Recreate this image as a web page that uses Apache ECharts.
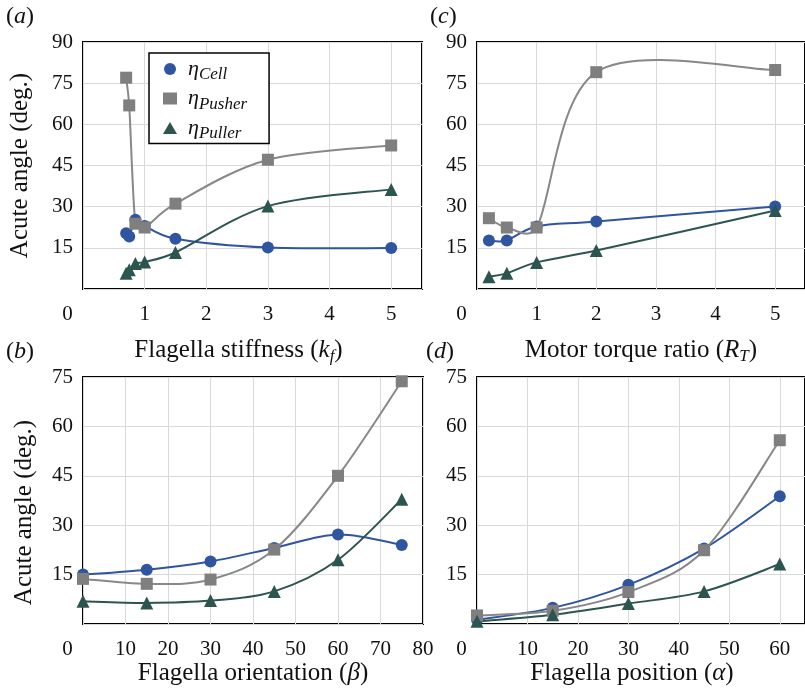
<!DOCTYPE html>
<html>
<head>
<meta charset="utf-8">
<script src="https://cdn.jsdelivr.net/npm/echarts@6/dist/echarts.min.js"></script>
<style>html,body{margin:0;padding:0;background:#fff;}#c{width:805px;height:692px;}</style>
</head>
<body>
<div id="c"></div>
<script>
// ---- Data ----
const seriesNames = ['Cell', 'Pusher', 'Puller'];

// (a) Flagella stiffness k_f
const kfX       = [0.7, 0.75, 0.85, 1, 1.5, 3, 5];
const kfCell    = [20.3, 19.1, 25.2, 23.0, 18.3, 15.1, 14.9];
const kfPusher  = [77.0, 66.9, 23.8, 22.4, 31.1, 47.1, 52.3];
const kfPuller  = [5.7, 7.0, 9.3, 9.8, 13.3, 30.2, 36.3];

// (c) Motor torque ratio R_T
const rtX       = [0.2, 0.5, 1, 2, 5];
const rtCell    = [17.7, 17.7, 22.8, 24.6, 30.1];
const rtPusher  = [25.8, 22.4, 22.4, 79.0, 79.8];
const rtPuller  = [4.5, 5.7, 9.7, 14.0, 28.6];

// (b) Flagella orientation beta
const betaX      = [0, 15, 30, 45, 60, 75];
const betaCell   = [15.0, 16.5, 19.0, 23.1, 27.2, 24.0];
const betaPusher = [13.7, 12.2, 13.5, 22.6, 45.0, 73.7];
const betaPuller = [6.9, 6.4, 7.1, 9.9, 19.5, 37.9];

// (d) Flagella position alpha
const alphaX      = [0, 15, 30, 45, 60];
const alphaCell   = [1.3, 4.9, 11.9, 22.9, 38.8];
const alphaPusher = [2.6, 4.0, 9.7, 22.4, 55.8];
const alphaPuller = [0.8, 2.8, 6.2, 9.9, 18.2];

// ---- Styles ----
const FONT = 'Liberation Serif';
const TXT = '#111';
const colors = { Cell: '#2F55A0', Pusher: '#7F7F7F', Puller: '#2D5550' };
const lineColors = { Cell: '#2F55A0', Pusher: '#888888', Puller: '#2D5550' };
const symbols = { Cell: 'circle', Pusher: 'rect', Puller: 'triangle' };
const symSize = { Cell: 12, Pusher: 12, Puller: 13 };

const chart = echarts.init(document.getElementById('c'), null, { renderer: 'canvas' });

const grids = [
  { left: 83,  top: 42,  width: 339, height: 247 },  // a
  { left: 477, top: 42,  width: 337, height: 247 },  // c
  { left: 83,  top: 377, width: 340, height: 247 },  // b
  { left: 477, top: 377, width: 336, height: 247 }   // d
].map(g => Object.assign({ show: true, borderColor: '#000', borderWidth: 2, backgroundColor: 'transparent' }, g));

const subRich = {
  i:   { fontFamily: FONT, fontSize: 25, fontStyle: 'italic', color: TXT },
  sub: { fontFamily: FONT, fontSize: 17, fontStyle: 'italic', color: TXT, padding: [12, 0, 0, 0] }
};

function xAxis(gi, min, max, interval, name, nameGap, showMax, namePad) {
  return {
    type: 'value', gridIndex: gi, min: min, max: max, interval: interval,
    name: name, nameLocation: 'middle', nameGap: nameGap,
    nameTextStyle: { fontFamily: FONT, fontSize: 25, color: TXT, rich: subRich, padding: namePad || 0 },
    axisLine: { show: false }, axisTick: { show: false },
    splitLine: { show: true, lineStyle: { color: '#D9D9D9', width: 1 } },
    axisLabel: {
      fontFamily: FONT, fontSize: 21, color: TXT, margin: 15, showMaxLabel: showMax,
      formatter: v => (v === 0 ? '{z|0}' : String(v)),
      rich: { z: { fontFamily: FONT, fontSize: 21, color: TXT, padding: [0, 31, 0, 0] } }
    }
  };
}
function yAxis(gi, max, name, nameGap, namePad) {
  return {
    type: 'value', gridIndex: gi, min: 0, max: max, interval: 15,
    name: name || '', nameLocation: 'middle', nameGap: nameGap || 0,
    nameTextStyle: { fontFamily: FONT, fontSize: 25, color: TXT, padding: namePad || 0 },
    axisLine: { show: false }, axisTick: { show: false },
    splitLine: { show: true, lineStyle: { color: '#D9D9D9', width: 1 } },
    axisLabel: { fontFamily: FONT, fontSize: 21, color: TXT, margin: 10, showMinLabel: false }
  };
}

// Spreadsheet-style smooth curve (Catmull-Rom bezier with limited tangents), in pixel space
function curveSegments(pts) {
  const n = pts.length, segs = [];
  const tang = i => {
    const a = pts[Math.max(i - 1, 0)], b = pts[Math.min(i + 1, n - 1)];
    return [(b[0] - a[0]) / 6, (b[1] - a[1]) / 6];
  };
  const lim = (t, L) => {
    const m = Math.hypot(t[0], t[1]);
    const mx = 0.5 * L;
    return m > mx && m > 0 ? [t[0] * mx / m, t[1] * mx / m] : t;
  };
  for (let i = 0; i < n - 1; i++) {
    const p1 = pts[i], p2 = pts[i + 1];
    const L = Math.hypot(p2[0] - p1[0], p2[1] - p1[1]);
    const t1 = lim(tang(i), L), t2 = lim(tang(i + 1), L);
    segs.push({ x1: p1[0], y1: p1[1], cpx1: p1[0] + t1[0], cpy1: p1[1] + t1[1],
                cpx2: p2[0] - t2[0], cpy2: p2[1] - t2[1], x2: p2[0], y2: p2[1] });
  }
  return segs;
}

function curve(name, xs, ys, idx) {
  return {
    type: 'custom', name: name, xAxisIndex: idx, yAxisIndex: idx,
    data: xs.map((x, i) => [x, ys[i]]),
    itemStyle: { color: colors[name] },
    silent: true, animation: false,
    renderItem: (params, api) => {
      if (params.dataIndex !== 0) return null;
      const pts = xs.map((x, i) => api.coord([x, ys[i]]));
      return {
        type: 'group',
        children: curveSegments(pts).map(s => ({
          type: 'bezierCurve', shape: s,
          style: { stroke: lineColors[name], lineWidth: 2, fill: null }
        }))
      };
    }
  };
}
function marks(name, xs, ys, idx) {
  return {
    type: 'scatter', name: name, xAxisIndex: idx, yAxisIndex: idx,
    data: xs.map((x, i) => [x, ys[i]]),
    symbol: symbols[name], symbolSize: symSize[name],
    itemStyle: { color: colors[name], opacity: 1 },
    emphasis: { disabled: true }, silent: true, animation: false
  };
}
function both(name, xs, ys, idx) { return [curve(name, xs, ys, idx), marks(name, xs, ys, idx)]; }

const series = [].concat(
  both('Cell', kfX, kfCell, 0), both('Pusher', kfX, kfPusher, 0), both('Puller', kfX, kfPuller, 0),
  both('Cell', rtX, rtCell, 1), both('Pusher', rtX, rtPusher, 1), both('Puller', rtX, rtPuller, 1),
  both('Cell', betaX, betaCell, 2), both('Pusher', betaX, betaPusher, 2), both('Puller', betaX, betaPuller, 2),
  both('Cell', alphaX, alphaCell, 3), both('Pusher', alphaX, alphaPusher, 3), both('Puller', alphaX, alphaPuller, 3)
);

function panelLabel(letter, x, y) {
  return {
    type: 'text', left: x, top: y, z: 100,
    style: {
      text: '({l|' + letter + '})',
      fontFamily: FONT, fontSize: 24, fill: TXT,
      rich: { l: { fontFamily: FONT, fontSize: 24, fontStyle: 'italic', fill: TXT } }
    }
  };
}

chart.setOption({
  backgroundColor: '#fff',
  animation: false,
  textStyle: { fontFamily: FONT },
  grid: grids,
  xAxis: [
    xAxis(0, 0, 5.5, 1, 'Flagella stiffness ({i|k}{sub|f})', 47, false, [0, 28, 0, 0]),
    xAxis(1, 0, 5.5, 1, 'Motor torque ratio ({i|R}{sub|T})', 47, false),
    xAxis(2, 0, 80, 10, 'Flagella orientation ({i|β})', 37, true),
    xAxis(3, 0, 65, 10, 'Flagella position ({i|α})', 37, false, [0, 18, 0, 0])
  ],
  yAxis: [
    yAxis(0, 90, 'Acute angle (deg.)', 50),
    yAxis(1, 90),
    yAxis(2, 75, 'Acute angle (deg.)', 46, [0, 24, 0, 0]),
    yAxis(3, 75)
  ],
  legend: {
    orient: 'vertical', left: 149, top: 53,
    padding: [5, 22, 1, 14],
    itemGap: 4, itemWidth: 14, itemHeight: 12,
    borderColor: '#000', borderWidth: 1.5, backgroundColor: '#fff',
    data: [
      { name: 'Cell', icon: 'circle', itemStyle: { color: colors.Cell } },
      { name: 'Pusher', icon: 'rect', itemStyle: { color: colors.Pusher } },
      { name: 'Puller', icon: 'triangle', itemStyle: { color: colors.Puller } }
    ],
    formatter: n => '{e|η}{s|' + n + '}',
    textStyle: {
      fontFamily: FONT,
      padding: [0, 0, 0, 6],
      rich: {
        e: { fontFamily: FONT, fontSize: 22, fontStyle: 'italic', color: TXT, lineHeight: 26 },
        s: { fontFamily: FONT, fontSize: 17, fontStyle: 'italic', color: TXT, padding: [12, 0, 0, 0] }
      }
    },
    selectedMode: false
  },
  graphic: [
    panelLabel('a', 6, 5),
    panelLabel('c', 430, 5),
    panelLabel('b', 6, 340),
    panelLabel('d', 426, 340)
  ],
  series: series
});
</script>
</body>
</html>
